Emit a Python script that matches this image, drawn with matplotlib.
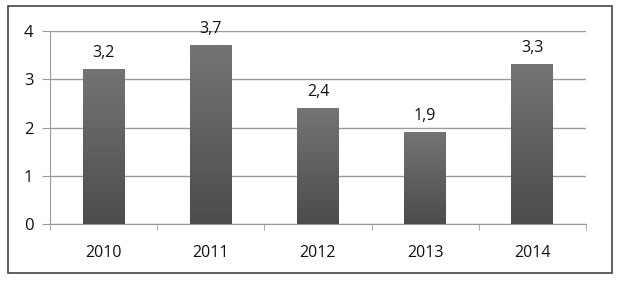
import numpy as np
import matplotlib.pyplot as plt
from matplotlib.colors import LinearSegmentedColormap
from matplotlib.patches import Rectangle

years = ['2010', '2011', '2012', '2013', '2014']
values = [3.2, 3.7, 2.4, 1.9, 3.3]
yticks = [0, 1, 2, 3, 4]

plt.rcParams['font.family'] = ['Open Sans', 'DejaVu Sans']

fig = plt.figure(figsize=(6.2, 2.81), dpi=100)
ax = fig.add_axes([50 / 620, 1 - 224 / 281, 536 / 620, 193 / 281])

x = np.arange(len(years))
bars = ax.bar(x, values, width=0.39, color='#666666', zorder=2)

# vertical gradient on each bar, lighter at top
cmap = LinearSegmentedColormap.from_list('g', ['#4c4c4c', '#747474'])
grad = np.linspace(0, 1, 100).reshape(-1, 1)
for b in bars:
    x0, w, h = b.get_x(), b.get_width(), b.get_height()
    ax.imshow(grad, cmap=cmap, origin='lower', aspect='auto',
              extent=[x0, x0 + w, 0, h], zorder=3)
    ax.annotate(f'{h:.1f}'.replace('.', ','), (x0 + w / 2, h),
                xytext=(0, 6), textcoords='offset points',
                ha='center', va='bottom', fontsize=11.5, color='#111111')

ax.set_xlim(-0.5, len(years) - 0.5)
ax.set_ylim(0, 4)
ax.set_yticks(yticks)
ax.set_yticklabels([str(t) for t in yticks])
ax.set_xticks(x)
ax.set_xticklabels(years)
ax.set_xticks(np.arange(len(years) + 1) - 0.5, minor=True)

ax.grid(axis='y', color='#9a9a9a', linewidth=1, zorder=0)
for s in ['top', 'right']:
    ax.spines[s].set_visible(False)
ax.spines['left'].set_color('#9a9a9a')
ax.spines['bottom'].set_color('#9a9a9a')
ax.tick_params(axis='y', length=6, color='#9a9a9a', labelsize=12, pad=6, labelcolor='#111111')
ax.tick_params(axis='x', which='major', length=0, labelsize=11.5, pad=15, labelcolor='#111111')
ax.tick_params(axis='x', which='minor', length=4, color='#9a9a9a')

fig.patches.append(Rectangle((8 / 620, 1 - 273 / 281), 604 / 620, 267 / 281,
                             transform=fig.transFigure, fill=False,
                             edgecolor='#444444', linewidth=1.2))

fig.savefig('out.png', dpi=100)
